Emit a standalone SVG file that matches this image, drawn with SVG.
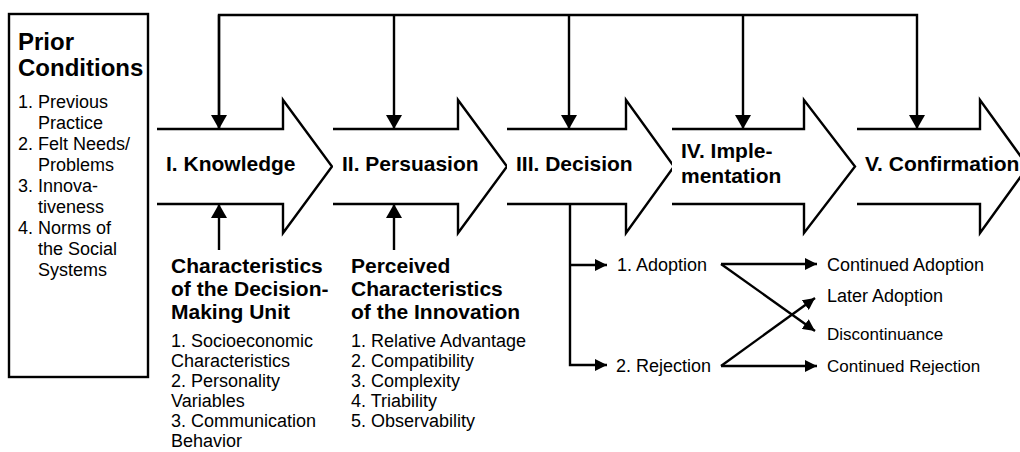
<svg xmlns="http://www.w3.org/2000/svg" width="1020" height="452" viewBox="0 0 1020 452">
  <defs>
    <style>
      .line { fill: none; stroke: #000; stroke-width: 2.4; }
      .stage { fill: #fff; stroke: #000; stroke-width: 2.4; stroke-linejoin: miter; }
      text { font-family: "Liberation Sans", Arial, sans-serif; fill: #000; }
      .h1 { font-size: 24px; font-weight: bold; }
      .h2 { font-size: 21px; font-weight: bold; }
      .body { font-size: 18px; }
      .small { font-size: 17px; }
    </style>
    <marker id="big" viewBox="0 0 14 16" refX="14" refY="8" markerWidth="14" markerHeight="16" markerUnits="userSpaceOnUse" orient="auto">
      <path d="M0,0 L14,8 L0,16 Z" fill="#000"/>
    </marker>
    <marker id="small" viewBox="0 0 12 12" refX="12" refY="6" markerWidth="12" markerHeight="12" markerUnits="userSpaceOnUse" orient="auto">
      <path d="M0,0 L12,6 L0,12 Z" fill="#000"/>
    </marker>
  </defs>

  <!-- Prior conditions box -->
  <g id="prior-conditions">
    <rect x="9" y="14" width="139" height="363" class="line"/>
    <text class="h1" x="18" y="50">Prior</text>
    <text class="h1" x="18" y="76">Conditions</text>
    <text class="body" x="18" y="108">1. Previous</text>
    <text class="body" x="38" y="129">Practice</text>
    <text class="body" x="18" y="150">2. Felt Needs/</text>
    <text class="body" x="38" y="171">Problems</text>
    <text class="body" x="18" y="192">3. Innova-</text>
    <text class="body" x="38" y="213">tiveness</text>
    <text class="body" x="18" y="234">4. Norms of</text>
    <text class="body" x="38" y="255">the Social</text>
    <text class="body" x="38" y="276">Systems</text>
  </g>

  <!-- Stage arrows -->
  <g id="knowledge">
    <path class="stage" d="M157,129 H283 V100 L332,166.5 L283,233 V204 H157"/>
    <text class="h2" x="166" y="171">I. Knowledge</text>
  </g>
  <g id="persuasion">
    <path class="stage" d="M333,129 H458 V100 L507,166.5 L458,233 V204 H333"/>
    <text class="h2" x="342" y="171">II. Persuasion</text>
  </g>
  <g id="decision">
    <path class="stage" d="M507,129 H626 V100 L674,166.5 L626,233 V204 H507"/>
    <text class="h2" x="516" y="171">III. Decision</text>
  </g>
  <g id="implementation">
    <path class="stage" d="M672,129 H804 V100 L855,166.5 L804,233 V204 H672"/>
    <text class="h2" x="681" y="158">IV. Imple-</text>
    <text class="h2" x="681" y="183">mentation</text>
  </g>
  <g id="confirmation">
    <path class="stage" d="M857,129 H980 V100 L1028,166.5 L980,233 V204 H857"/>
    <text class="h2" x="865" y="171">V. Confirmation</text>
  </g>

  <!-- Characteristics of the decision-making unit -->
  <g id="decision-making-unit">
    <text class="h2" x="171" y="273">Characteristics</text>
    <text class="h2" x="171" y="296">of the Decision-</text>
    <text class="h2" x="171" y="319">Making Unit</text>
    <text class="body" x="171" y="347">1. Socioeconomic</text>
    <text class="body" x="171" y="367">Characteristics</text>
    <text class="body" x="171" y="387">2. Personality</text>
    <text class="body" x="171" y="407">Variables</text>
    <text class="body" x="171" y="427">3. Communication</text>
    <text class="body" x="171" y="447">Behavior</text>
  </g>

  <!-- Perceived characteristics of the innovation -->
  <g id="innovation-characteristics">
    <text class="h2" x="351" y="273">Perceived</text>
    <text class="h2" x="351" y="296">Characteristics</text>
    <text class="h2" x="351" y="319">of the Innovation</text>
    <text class="body" x="351" y="347">1. Relative Advantage</text>
    <text class="body" x="351" y="367">2. Compatibility</text>
    <text class="body" x="351" y="387">3. Complexity</text>
    <text class="body" x="351" y="407">4. Triability</text>
    <text class="body" x="351" y="427">5. Observability</text>
  </g>

  <!-- Decision outcomes -->
  <g id="adoption">
    <text class="body" x="617" y="271">1. Adoption</text>
  </g>
  <g id="rejection">
    <text class="body" x="616" y="372">2. Rejection</text>
  </g>
  <g id="continued-adoption">
    <text class="body" x="827" y="271">Continued Adoption</text>
  </g>
  <g id="later-adoption">
    <text class="body" x="827" y="302">Later Adoption</text>
  </g>
  <g id="discontinuance">
    <text class="small" x="827" y="340">Discontinuance</text>
  </g>
  <g id="continued-rejection">
    <text class="small" x="827" y="372">Continued Rejection</text>
  </g>

  <!-- Connectors -->
  <g id="connectors">
    <!-- feedback from the top bar into every stage -->
    <path class="line" d="M219,129 V15 H917 V129" marker-end="url(#big)"/>
    <path class="line" d="M219,15 V129" marker-end="url(#big)"/>
    <path class="line" d="M394,15 V129" marker-end="url(#big)"/>
    <path class="line" d="M569,15 V129" marker-end="url(#big)"/>
    <path class="line" d="M743,15 V129" marker-end="url(#big)"/>
    <!-- influences from below -->
    <path class="line" d="M219,250 V204" marker-end="url(#big)"/>
    <path class="line" d="M394,250 V204" marker-end="url(#big)"/>
    <!-- decision branches -->
    <path class="line" d="M570,204 V365 H607" marker-end="url(#small)"/>
    <path class="line" d="M570,265 H607" marker-end="url(#small)"/>
    <!-- outcomes -->
    <path class="line" d="M721,264 H817" marker-end="url(#small)"/>
    <path class="line" d="M721,264 L815,331" marker-end="url(#small)"/>
    <path class="line" d="M721,366 L815,298" marker-end="url(#small)"/>
    <path class="line" d="M721,366 H817" marker-end="url(#small)"/>
  </g>
</svg>
